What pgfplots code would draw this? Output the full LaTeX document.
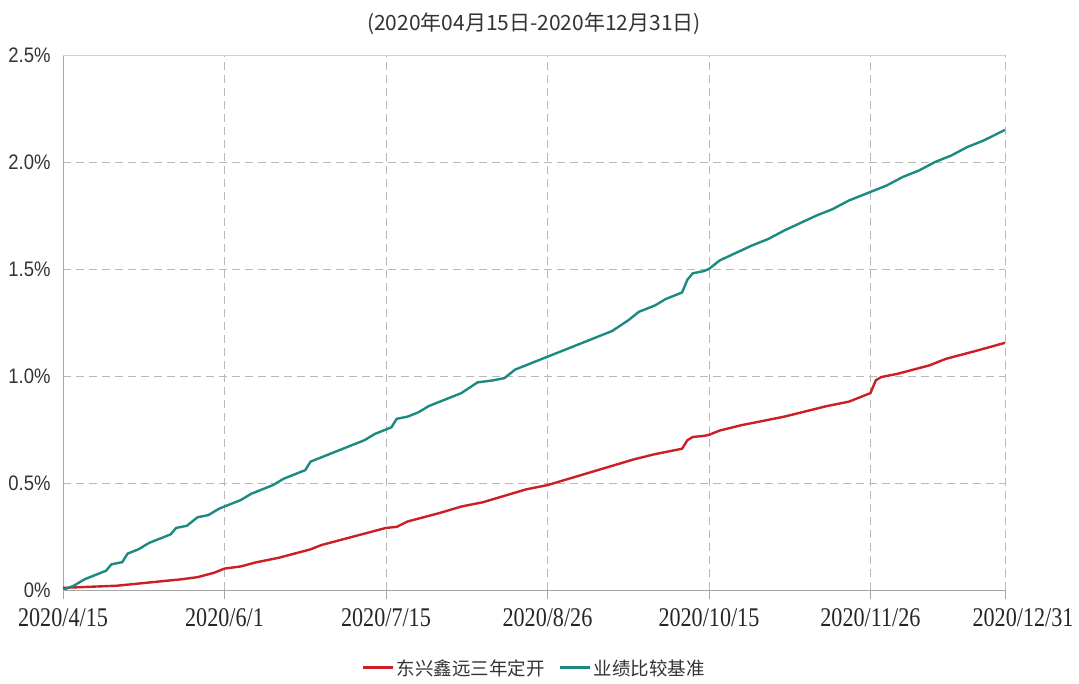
\documentclass[border=0pt]{standalone}
\usepackage{fontspec}
\usepackage{pgfplots}
\pgfplotsset{compat=1.18}
\setmainfont{Liberation Sans}
\newfontfamily\cjk{Noto Sans CJK SC}
\newfontfamily\xfont[FakeStretch=0.82]{Liberation Serif}
\newfontfamily\yfont[FakeStretch=0.88]{Liberation Sans}
\definecolor{fundred}{RGB}{204,30,35}
\definecolor{benchteal}{RGB}{27,138,128}
\begin{document}
\begin{tikzpicture}
\useasboundingbox (-63pt,-94pt) rectangle (1016pt,590pt);
\begin{axis}[
    scale only axis,
    width=942pt,
    height=535pt,
    xmin=0, xmax=175,
    ymin=0, ymax=2.5,
    axis lines=left,
    axis line style={-,gray!70,line width=0.8pt},
    xtick={0,30,60,90,120,150},
    xticklabels={2020/4/15,2020/6/1,2020/7/15,2020/8/26,2020/10/15,2020/11/26},
    extra x ticks={175},
    extra x tick labels={2020/12/31},
    extra x tick style={xticklabel style={xshift=18pt}},
    xticklabel style={font=\xfont\fontsize{27}{30}\selectfont,text=black!85,yshift=-6pt},
    ytick={0,0.5,1,1.5,2,2.5},
    yticklabels={0\%,0.5\%,1.0\%,1.5\%,2.0\%,2.5\%},
    yticklabel style={font=\yfont\fontsize{21}{24}\selectfont,text=black!80},
    x tick style={gray!70,line width=0.8pt},
    major tick length=9pt,
    tick align=outside,
    y tick style={draw=none},
    grid=major,
    major grid style={gray!55,dashed,dash pattern=on 8pt off 5pt,line width=0.7pt},
    title={(2020年04月15日-2020年12月31日)},
    title style={at={(0.5,1)},anchor=center,yshift=25pt,font=\cjk\fontsize{21}{25}\selectfont,text=black!80},
    legend columns=2,
    legend style={at={(0.5,0)},anchor=center,yshift=-78pt,draw=none,
        font=\cjk\fontsize{18.5}{22}\selectfont,text=black!80,
        /tikz/every even column/.append style={column sep=12pt}},
    legend image code/.code={\draw[#1,line width=3pt] (0pt,0pt) -- (30pt,0pt);},
]
\addplot[fundred,line width=2.4pt] coordinates {
(0,0.01) (5,0.015) (10,0.02) (14,0.03) (18,0.04) (22,0.05) (25,0.06) (28,0.08)
(30,0.10) (33,0.11) (36,0.13) (40,0.15) (43,0.17) (46,0.19) (48,0.21) (51,0.23)
(54,0.25) (57,0.27) (60,0.29) (62,0.295) (64,0.32) (67,0.34) (70,0.36) (74,0.39)
(78,0.41) (82,0.44) (86,0.47) (90,0.49) (94,0.52) (98,0.55) (102,0.58) (106,0.61)
(110,0.635) (114,0.655) (115,0.66) (116,0.70) (117,0.715) (119,0.72) (120,0.725)
(122,0.745) (126,0.77) (130,0.79) (134,0.81) (138,0.835) (142,0.86) (146,0.88)
(149,0.91) (150,0.92) (151,0.98) (152,0.995) (155,1.01) (158,1.03) (161,1.05)
(164,1.08) (167,1.10) (170,1.12) (175,1.155)
};
\addlegendentry{东兴鑫远三年定开}
\addplot[benchteal,line width=2.4pt] coordinates {
(0,0.00) (2,0.02) (4,0.05) (6,0.07) (8,0.09) (9,0.12) (11,0.13) (12,0.17)
(14,0.19) (16,0.22) (18,0.24) (20,0.26) (21,0.29) (23,0.30) (25,0.34) (27,0.35)
(29,0.38) (31,0.40) (33,0.42) (35,0.45) (37,0.47) (39,0.49) (41,0.52) (43,0.54)
(45,0.56) (46,0.60) (48,0.62) (50,0.64) (52,0.66) (54,0.68) (56,0.70) (58,0.73)
(60,0.75) (61,0.76) (62,0.80) (64,0.81) (66,0.83) (68,0.86) (70,0.88) (72,0.90)
(74,0.92) (77,0.97) (80,0.98) (82,0.99) (84,1.03) (86,1.05) (88,1.07) (90,1.09)
(93,1.12) (96,1.15) (99,1.18) (102,1.21) (105,1.26) (107,1.30) (110,1.33)
(112,1.36) (114,1.38) (115,1.39) (116,1.45) (117,1.48) (119,1.49) (120,1.50)
(122,1.54) (125,1.575) (128,1.61) (131,1.64) (134,1.68) (137,1.715) (140,1.75)
(143,1.78) (146,1.82) (148,1.84) (150,1.86) (153,1.89) (156,1.93) (159,1.96)
(162,2.00) (165,2.03) (168,2.07) (171,2.10) (175,2.15)
};
\addlegendentry{业绩比较基准}
\draw[gray!35,line width=0.8pt] (rel axis cs:0,1) -- (rel axis cs:1,1) -- (rel axis cs:1,0);
\end{axis}
\end{tikzpicture}
\end{document}
